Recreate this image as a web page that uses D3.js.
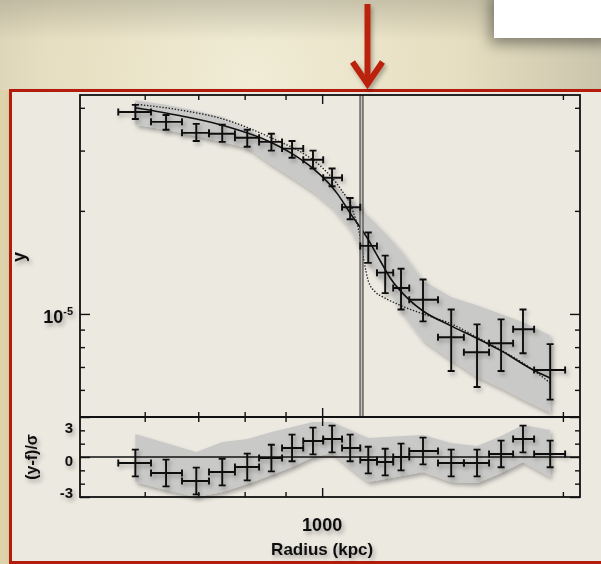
<!DOCTYPE html>
<html>
<head>
<meta charset="utf-8">
<script src="https://cdn.jsdelivr.net/npm/d3@7"></script>
<style>
  body { margin: 0; overflow: hidden; background: #e6dcbc; }
  svg { display: block; }
  text { font-family: "Liberation Sans", Arial, Helvetica, sans-serif; font-weight: bold; fill: #111; }
</style>
</head>
<body>
<svg id="chart" width="601" height="564"></svg>
<script>
// ---- data (radius in kpc, profile in units of 1e-5) ----
const radius = [584, 638, 696, 750, 806, 864, 917, 974, 1029, 1084, 1142, 1199, 1255, 1337, 1450, 1562, 1674, 1783, 1928];
const radiusEdges = [556, 611, 668, 722, 778, 834, 891, 947, 1003, 1059, 1116, 1171, 1227, 1285, 1396, 1504, 1617, 1733, 1841, 2013];
const profile     = [3.89, 3.64, 3.38, 3.36, 3.27, 3.18, 3.04, 2.82, 2.50, 2.05, 1.58, 1.32, 1.19, 1.10, 0.855, 0.773, 0.821, 0.902, 0.686];
const profileLow  = [3.71, 3.45, 3.20, 3.18, 3.08, 3.00, 2.86, 2.66, 2.36, 1.89, 1.41, 1.15, 1.03, 0.951, 0.681, 0.612, 0.681, 0.768, 0.562];
const profileHigh = [4.08, 3.81, 3.59, 3.57, 3.45, 3.36, 3.20, 3.00, 2.66, 2.18, 1.73, 1.48, 1.355, 1.26, 1.03, 0.932, 0.964, 1.03, 0.816];

// grey model envelope, sampled at the data radii
const bandHigh = [4.21, 4.08, 3.92, 3.76, 3.47, 3.16, 2.94, 2.69, 2.41, 2.16, 1.93, 1.72, 1.53, 1.25, 1.12, 1.06, 1.00, 0.945, 0.866];
const bandLow  = [3.57, 3.45, 3.31, 3.18, 3.06, 2.73, 2.50, 2.28, 2.05, 1.77, 1.41, 1.23, 1.02, 0.838, 0.733, 0.655, 0.608, 0.562, 0.515];

// best fit (solid) and alternative model (dotted)
const fitRadius = [584, 665, 746, 861, 917, 974, 1044, 1084, 1138, 1182, 1216, 1288, 1337, 1445, 1562, 1669, 1836, 1928];
const fitValue  = [4.00, 3.79, 3.57, 3.18, 2.94, 2.66, 2.25, 1.97, 1.67, 1.43, 1.276, 1.094, 1.02, 0.926, 0.849, 0.784, 0.686, 0.650];
const altRadius = [584, 665, 752, 886, 939, 1003, 1053, 1093, 1116, 1128, 1142, 1165, 1192, 1252, 1337, 1445, 1562, 1674, 1783, 1928];
const altValue  = [4.10, 3.94, 3.71, 3.18, 2.98, 2.66, 2.33, 1.995, 1.67, 1.43, 1.25, 1.16, 1.12, 1.06, 1.00, 0.939, 0.855, 0.784, 0.719, 0.629];

// residuals (y-f)/sigma, error bars are +-1
const residual     = [-0.45, -1.2, -1.8, -1.13, -0.75, -0.08, 0.68, 1.2, 1.35, 0.68, -0.23, -0.38, 0.0, 0.45, -0.45, -0.45, 0.23, 1.35, 0.23];
const residualHigh = [1.73, 1.05, 0.38, 1.13, 1.35, 1.88, 2.25, 2.63, 2.63, 2.03, 1.43, 1.5, 1.58, 1.65, 1.05, 0.83, 1.58, 2.4, 2.03];
const residualLow  = [-1.88, -2.48, -3.0, -2.63, -2.03, -1.35, -0.75, 0.0, 0.3, -0.83, -1.88, -1.65, -1.43, -1.13, -1.88, -1.95, -1.2, -0.38, -1.5];

const markerRadius = 1120;   // vertical double line

// ticks
const xMinorTicks = [600, 700, 800, 900, 2000];
const xMajorTicks = [1000];
const yMinorTicks = [0.6, 0.7, 0.8, 0.9, 2, 3, 4];
const yMajorTicks = [1];
const rMinorTicks = [-2, -1, 1, 2];
const rMajorTicks = [-3, 0, 3];

// ---- layout ----
const svg = d3.select('#chart');
const box = { left: 80, right: 580, top: 95, mid: 417, bottom: 497 };

const x = d3.scaleLog().domain([498, 2101]).range([box.left, box.right]);
const y = d3.scaleLog().domain([0.5, 4.36]).range([box.mid, box.top]);
const yr = d3.scaleLinear().domain([-3, 3]).range([box.bottom, box.mid]);

// ---- defs ----
const defs = svg.append('defs');
const bg = defs.append('radialGradient').attr('id', 'paper')
  .attr('cx', '0.42').attr('cy', '0.14').attr('r', '0.7');
bg.append('stop').attr('offset', '0').attr('stop-color', '#f1ecd6');
bg.append('stop').attr('offset', '0.5').attr('stop-color', '#e6dec0');
bg.append('stop').attr('offset', '1').attr('stop-color', '#bdb8a3');

const shade = defs.append('linearGradient').attr('id', 'topShade')
  .attr('x1', 0).attr('y1', 0).attr('x2', 0).attr('y2', 1);
shade.append('stop').attr('offset', '0').attr('stop-color', '#9c9886').attr('stop-opacity', 0.45);
shade.append('stop').attr('offset', '1').attr('stop-color', '#9c9886').attr('stop-opacity', 0);

const shadow = defs.append('filter').attr('id', 'shadow')
  .attr('x', '-10%').attr('y', '-10%').attr('width', '130%').attr('height', '130%');
shadow.append('feDropShadow').attr('dx', 2).attr('dy', 3).attr('stdDeviation', 2)
  .attr('flood-color', '#000').attr('flood-opacity', 0.3);

const softShadow = defs.append('filter').attr('id', 'softShadow')
  .attr('x', '-20%').attr('y', '-20%').attr('width', '150%').attr('height', '160%');
softShadow.append('feDropShadow').attr('dx', -4).attr('dy', 6).attr('stdDeviation', 7)
  .attr('flood-color', '#000').attr('flood-opacity', 0.4);

// ---- background, frame, decorations ----
svg.append('rect').attr('width', 601).attr('height', 564).attr('fill', 'url(#paper)');
svg.append('rect').attr('width', 601).attr('height', 40).attr('fill', 'url(#topShade)');
svg.append('rect').attr('x', 0).attr('y', 90).attr('width', 12).attr('height', 474).attr('fill', '#ddd2aa');

svg.append('rect').attr('x', 494).attr('y', -10).attr('width', 120).attr('height', 48)
  .attr('fill', '#ffffff').attr('filter', 'url(#softShadow)');

svg.append('rect')
  .attr('x', 10.5).attr('y', 90.5).attr('width', 620).attr('height', 472)
  .attr('fill', '#ece9e1').attr('stroke', '#b31e0c').attr('stroke-width', 3)
  .attr('filter', 'url(#shadow)');

// red arrow pointing at the marker line
const arrowX = x(markerRadius) + 6;
const arrow = svg.append('g').attr('filter', 'url(#shadow)')
  .attr('stroke', '#bb200d').attr('stroke-width', 6).attr('fill', 'none');
arrow.append('line').attr('x1', arrowX).attr('x2', arrowX).attr('y1', 4).attr('y2', 84);
arrow.append('path')
  .attr('d', `M${arrowX - 15},62 L${arrowX},84 L${arrowX + 15},62`)
  .attr('stroke-linejoin', 'miter');

// ---- plot ----
const plot = svg.append('g');
const marks = plot.append('g').attr('filter', 'url(#shadow)');

const bandArea = d3.area()
  .x((d, i) => x(radius[i]))
  .y0((d, i) => y(bandLow[i]))
  .y1((d, i) => y(bandHigh[i]));
marks.append('path').datum(radius).attr('d', bandArea).attr('fill', '#c9c9c8');

const resArea = d3.area()
  .x((d, i) => x(radius[i]))
  .y0((d, i) => yr(Math.max(residualLow[i], -3)))
  .y1((d, i) => yr(residualHigh[i]));
marks.append('path').datum(radius).attr('d', resArea).attr('fill', '#c9c9c8');

// zero line of the residual panel
plot.append('line')
  .attr('x1', box.left).attr('x2', box.right)
  .attr('y1', yr(0)).attr('y2', yr(0))
  .attr('stroke', '#111').attr('stroke-width', 1.6);

const curveLine = d3.line().curve(d3.curveMonotoneX);
plot.append('path')
  .attr('d', curveLine(altRadius.map((r, i) => [x(r), y(altValue[i])])))
  .attr('fill', 'none').attr('stroke', '#222').attr('stroke-width', 1.5)
  .attr('stroke-dasharray', '0.1 3').attr('stroke-linecap', 'round');
plot.append('path')
  .attr('d', curveLine(fitRadius.map((r, i) => [x(r), y(fitValue[i])])))
  .attr('fill', 'none').attr('stroke', '#111').attr('stroke-width', 1.6);

// vertical double line
const mx = x(markerRadius);
const marker = plot.append('g');
marker.append('rect').attr('x', mx - 1.5).attr('y', box.top).attr('width', 3)
  .attr('height', box.mid - box.top).attr('fill', '#c4c2bc');
[-1.5, 1.5].forEach(off => {
  marker.append('line').attr('x1', mx + off).attr('x2', mx + off)
    .attr('y1', box.top).attr('y2', box.mid)
    .attr('stroke', '#2e2e2e').attr('stroke-width', 1);
});

// error bars
function errorBars(g, yScale, vals, lows, highs) {
  const cap = 3.5;
  const pts = radius.map((r, i) => ({
    x: x(r), x0: x(radiusEdges[i]), x1: x(radiusEdges[i + 1]),
    y: yScale(vals[i]), y0: yScale(lows[i]), y1: yScale(highs[i])
  }));
  const e = g.selectAll(null).data(pts).enter().append('g')
    .attr('stroke', '#111').attr('stroke-width', 1.9).attr('fill', 'none');
  e.append('path').attr('d', d =>
    `M${d.x0},${d.y}H${d.x1}` +
    `M${d.x0},${d.y - cap}V${d.y + cap}M${d.x1},${d.y - cap}V${d.y + cap}` +
    `M${d.x},${d.y0}V${d.y1}` +
    `M${d.x - cap},${d.y0}H${d.x + cap}M${d.x - cap},${d.y1}H${d.x + cap}`);
}
const bars = plot.append('g').attr('filter', 'url(#shadow)');
errorBars(bars, y, profile, profileLow, profileHigh);
errorBars(bars, yr, residual, residual.map(v => v - 1), residual.map(v => v + 1));

// ---- axes ----
const axes = plot.append('g');
function tickAxis(axisFn, scale, values, size, transform) {
  const g = axes.append('g').attr('transform', transform)
    .call(axisFn(scale).tickValues(values).tickSize(-size).tickFormat(''));
  g.select('.domain').remove();
  g.selectAll('.tick line').attr('stroke', '#111').attr('stroke-width', 1.4);
  return g;
}
// main panel
tickAxis(d3.axisTop, x, xMinorTicks, 5, `translate(0,${box.top})`);
tickAxis(d3.axisTop, x, xMajorTicks, 9, `translate(0,${box.top})`);
tickAxis(d3.axisBottom, x, xMinorTicks, 5, `translate(0,${box.mid})`);
tickAxis(d3.axisBottom, x, xMajorTicks, 9, `translate(0,${box.mid})`);
tickAxis(d3.axisLeft, y, yMinorTicks, 5, `translate(${box.left},0)`);
tickAxis(d3.axisLeft, y, yMajorTicks, 10, `translate(${box.left},0)`);
tickAxis(d3.axisRight, y, yMinorTicks, 5, `translate(${box.right},0)`);
tickAxis(d3.axisRight, y, yMajorTicks, 10, `translate(${box.right},0)`);
// residual panel
tickAxis(d3.axisTop, x, xMinorTicks, 5, `translate(0,${box.mid})`);
tickAxis(d3.axisTop, x, xMajorTicks, 9, `translate(0,${box.mid})`);
tickAxis(d3.axisBottom, x, xMinorTicks, 5, `translate(0,${box.bottom})`);
tickAxis(d3.axisBottom, x, xMajorTicks, 9, `translate(0,${box.bottom})`);
tickAxis(d3.axisLeft, yr, rMinorTicks, 5, `translate(${box.left},0)`);
tickAxis(d3.axisLeft, yr, rMajorTicks, 10, `translate(${box.left},0)`);
tickAxis(d3.axisRight, yr, rMinorTicks, 5, `translate(${box.right},0)`);
tickAxis(d3.axisRight, yr, rMajorTicks, 10, `translate(${box.right},0)`);

// panel frames
axes.append('rect').attr('x', box.left).attr('y', box.top)
  .attr('width', box.right - box.left).attr('height', box.bottom - box.top)
  .attr('fill', 'none').attr('stroke', '#111').attr('stroke-width', 1.8);
axes.append('line').attr('x1', box.left).attr('x2', box.right)
  .attr('y1', box.mid).attr('y2', box.mid)
  .attr('stroke', '#111').attr('stroke-width', 1.8);

// ---- labels ----
const labels = svg.append('g').attr('filter', 'url(#shadow)');

// x tick label
xMajorTicks.forEach(v => {
  labels.append('text').attr('x', x(v)).attr('y', box.bottom + 34)
    .attr('text-anchor', 'middle').style('font-size', '18px').text(d3.format('d')(v));
});
labels.append('text').attr('x', x(1000)).attr('y', 555)
  .attr('text-anchor', 'middle').style('font-size', '17px').text('Radius (kpc)');

// y tick label 10^-5
yMajorTicks.forEach(v => {
  const t = labels.append('text').attr('x', 73).attr('y', y(v) + 9)
    .attr('text-anchor', 'end').style('font-size', '18px');
  t.append('tspan').text('10');
  t.append('tspan').attr('dy', -8).style('font-size', '11px').text('-5');
});
labels.append('text')
  .attr('transform', `translate(25,${(box.top + box.mid) / 2 + 1}) rotate(-90)`)
  .attr('text-anchor', 'middle').style('font-size', '18px').text('y');

// residual tick labels, kept inside the panel at its ends
rMajorTicks.forEach(v => {
  const yy = Math.min(Math.max(yr(v) + 3, box.mid + 10), box.bottom - 5);
  labels.append('text').attr('x', 73).attr('y', yy)
    .attr('dominant-baseline', 'central').attr('text-anchor', 'end')
    .style('font-size', '15px').text(d3.format('d')(v).replace('−', '-'));
});
labels.append('text')
  .attr('transform', `translate(37,${(box.mid + box.bottom) / 2}) rotate(-90)`)
  .attr('text-anchor', 'middle').style('font-size', '16px').text('(y-f)/σ');
</script>
</body>
</html>
